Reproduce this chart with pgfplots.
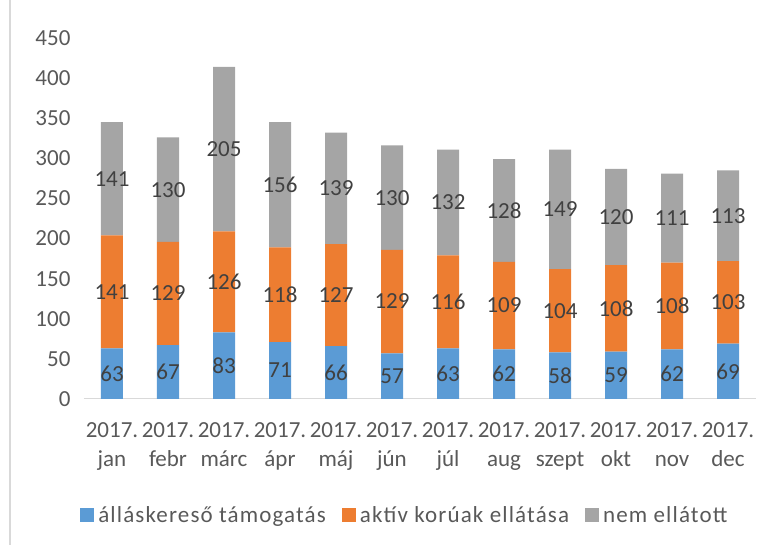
\documentclass[border=0pt]{standalone}
\usepackage{fontspec}
\setmainfont{Carlito}
\usepackage{pgfplots}
\usepackage{pgfplotstable}
\pgfplotsset{compat=1.18}
\definecolor{cblue}{HTML}{5B9BD5}
\definecolor{corange}{HTML}{ED7D31}
\definecolor{cgray}{HTML}{A5A5A5}
\definecolor{ctext}{HTML}{595959}
\definecolor{clabel}{HTML}{404040}
\definecolor{caxis}{HTML}{D9D9D9}

\pgfplotstableread{
x  allas aktiv nem
0  63  141 141
1  67  129 130
2  83  126 205
3  71  118 156
4  66  127 139
5  57  129 130
6  63  116 132
7  62  109 128
8  58  104 149
9  59  108 120
10 62  108 111
11 69  103 113
}\datatable

\begin{document}
\begin{tikzpicture}[font=\fontsize{23}{27}\selectfont]
\path[use as bounding box] (-84pt,-146pt) rectangle (684pt,399pt);
\draw[caxis, line width=1.5pt] (-74pt,-146pt) -- (-74pt,399pt);
\begin{axis}[
    at={(0pt,0pt)},
    scale only axis,
    width=672pt, height=361pt,
    ybar stacked,
    bar width=22pt,
    ymin=0, ymax=450,
    ytick={0,50,...,450},
    xmin=-0.5, xmax=11.5,
    xtick={0,...,11},
    xticklabels={{2017.\\jan},{2017.\\febr},{2017.\\márc},{2017.\\ápr},{2017.\\máj},{2017.\\jún},{2017.\\júl},{2017.\\aug},{2017.\\szept},{2017.\\okt},{2017.\\nov},{2017.\\dec}},
    /pgf/number format/assume math mode=true,
    separate axis lines,
    axis x line*=bottom,
    axis y line*=left,
    y axis line style={draw=none},
    x axis line style={draw=caxis, line width=1pt},
    major tick length=0pt,
    tick label style={color=ctext},
    yticklabel style={xshift=-10pt},
    xticklabel style={align=center, font=\fontsize{23}{29}\selectfont, yshift=-20pt},
    point meta=explicit,
    nodes near coords,
    every node near coord/.append style={anchor=center, color=clabel},
    legend style={at={(0.479,-0.321)}, anchor=center, draw=none, fill=none,
        legend columns=-1, text=ctext,
        font=\fontsize{23}{27}\selectfont\addfontfeature{LetterSpace=5},
        nodes={inner xsep=4pt},
        /tikz/every even column/.append style={column sep=12pt}},
    legend image code/.code={\fill[#1,draw=none] (0pt,-7pt) rectangle (14pt,7pt);},
]
\addplot[fill=cblue, draw=none] table[x=x, y=allas, meta=allas] {\datatable};
\addplot[fill=corange, draw=none] table[x=x, y=aktiv, meta=aktiv] {\datatable};
\addplot[fill=cgray, draw=none] table[x=x, y=nem, meta=nem] {\datatable};
\legend{álláskereső támogatás, aktív korúak ellátása, nem ellátott}
\end{axis}
\end{tikzpicture}
\end{document}
